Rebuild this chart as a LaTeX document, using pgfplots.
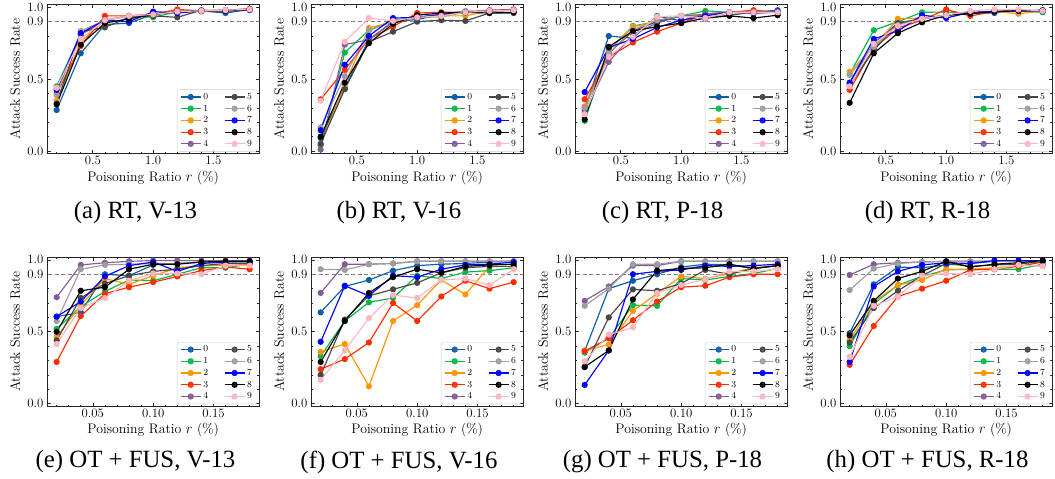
\documentclass[border=0pt]{standalone}
\usepackage{fontspec}
\usepackage{pgfplots}
\usepackage{pgfplotstable}
\pgfplotsset{compat=1.18}
\newfontfamily\capfont{Liberation Serif}
\newcommand\tf{\fontsize{12.8}{14}\selectfont}
\newcommand\lbf{\fontsize{13.8}{15}\selectfont}
\newcommand\lgf{\fontsize{9.3}{10}\selectfont}

\definecolor{c0}{HTML}{0C5DA5}
\definecolor{c1}{HTML}{00B945}
\definecolor{c2}{HTML}{FF9500}
\definecolor{c3}{HTML}{FF2C00}
\definecolor{c4}{HTML}{845B97}
\definecolor{c5}{HTML}{474747}
\definecolor{c6}{HTML}{9E9E9E}
\definecolor{c7}{HTML}{0000FF}
\definecolor{c8}{HTML}{000000}
\definecolor{c9}{HTML}{FFB6C1}

% RT, V-13
\pgfplotstableread{
x   s0    s1    s2    s3    s4    s5    s6    s7    s8    s9
0.2 0.285 0.45  0.35  0.40  0.43  0.33  0.39  0.425 0.325 0.44
0.4 0.68  0.81  0.76  0.73  0.81  0.83  0.835 0.82  0.74  0.78
0.6 0.88  0.91  0.91  0.94  0.91  0.86  0.91  0.91  0.89  0.91
0.8 0.89  0.94  0.94  0.94  0.94  0.93  0.94  0.90  0.92  0.94
1.0 0.95  0.93  0.95  0.95  0.95  0.94  0.95  0.97  0.95  0.95
1.2 0.97  0.97  0.97  0.985 0.97  0.93  0.97  0.96  0.97  0.97
1.4 0.975 0.975 0.97  0.975 0.975 0.98  0.975 0.975 0.975 0.975
1.6 0.96  0.98  0.98  0.98  0.98  0.975 0.98  0.975 0.975 0.98
1.8 0.985 0.985 0.985 0.99  0.985 0.985 0.985 0.98  0.985 0.985
}\tabA
% RT, V-16
\pgfplotstableread{
x   s0    s1    s2    s3    s4    s5    s6    s7    s8    s9
0.2 0.09  0.04  0.05  0.36  0.01  0.05  0.165 0.145 0.10  0.35
0.4 0.44  0.685 0.46  0.565 0.74  0.43  0.52  0.60  0.475 0.76
0.6 0.775 0.84  0.855 0.78  0.775 0.76  0.84  0.80  0.75  0.925
0.8 0.90  0.91  0.90  0.865 0.90  0.83  0.90  0.925 0.885 0.905
1.0 0.915 0.93  0.93  0.96  0.93  0.90  0.93  0.93  0.945 0.93
1.2 0.95  0.935 0.94  0.965 0.95  0.91  0.95  0.95  0.96  0.94
1.4 0.965 0.965 0.94  0.965 0.965 0.905 0.975 0.965 0.965 0.965
1.6 0.975 0.975 0.975 0.98  0.975 0.96  0.975 0.975 0.96  0.975
1.8 0.98  0.98  0.98  0.985 0.98  0.96  0.98  0.98  0.965 0.98
}\tabB
% RT, P-18
\pgfplotstableread{
x   s0    s1    s2    s3    s4    s5    s6    s7    s8    s9
0.2 0.285 0.21  0.31  0.36  0.27  0.30  0.30  0.41  0.22  0.255
0.4 0.80  0.70  0.70  0.655 0.62  0.68  0.68  0.72  0.725 0.655
0.6 0.785 0.87  0.865 0.755 0.81  0.835 0.845 0.78  0.835 0.795
0.8 0.94  0.90  0.90  0.83  0.89  0.90  0.91  0.86  0.865 0.935
1.0 0.905 0.94  0.94  0.89  0.94  0.94  0.94  0.91  0.89  0.94
1.2 0.955 0.975 0.95  0.95  0.95  0.925 0.92  0.94  0.925 0.925
1.4 0.965 0.965 0.965 0.965 0.965 0.945 0.965 0.965 0.94  0.965
1.6 0.965 0.965 0.965 0.98  0.965 0.965 0.955 0.96  0.925 0.965
1.8 0.98  0.965 0.965 0.965 0.965 0.965 0.965 0.97  0.945 0.965
}\tabC
% RT, R-18
\pgfplotstableread{
x   s0    s1    s2    s3    s4    s5    s6    s7    s8    s9
0.2 0.475 0.535 0.55  0.425 0.45  0.46  0.53  0.475 0.335 0.45
0.4 0.75  0.84  0.725 0.715 0.71  0.70  0.725 0.78  0.68  0.745
0.6 0.89  0.90  0.92  0.855 0.88  0.89  0.875 0.835 0.82  0.87
0.8 0.92  0.965 0.925 0.91  0.92  0.92  0.92  0.945 0.895 0.92
1.0 0.945 0.967 0.945 0.985 0.945 0.945 0.945 0.925 0.945 0.945
1.2 0.96  0.96  0.96  0.94  0.96  0.96  0.96  0.965 0.955 0.975
1.4 0.96  0.97  0.97  0.97  0.97  0.97  0.97  0.97  0.97  0.985
1.6 0.975 0.975 0.955 0.975 0.975 0.975 0.975 0.975 0.975 0.985
1.8 0.975 0.965 0.975 0.975 0.975 0.975 0.975 0.975 0.98  0.975
}\tabD
% OT + FUS, V-13
\pgfplotstableread{
x    s0    s1    s2    s3    s4    s5    s6    s7    s8    s9
0.02 0.605 0.52  0.465 0.29  0.74  0.44  0.575 0.605 0.50  0.415
0.04 0.635 0.675 0.685 0.61  0.965 0.735 0.935 0.71  0.785 0.665
0.06 0.90  0.78  0.87  0.765 0.98  0.835 0.965 0.885 0.81  0.735
0.08 0.89  0.86  0.83  0.81  0.99  0.89  0.97  0.96  0.935 0.855
0.10 0.965 0.855 0.89  0.845 0.995 0.92  0.975 0.985 0.97  0.905
0.12 0.975 0.90  0.945 0.885 0.995 0.935 0.975 0.92  0.97  0.905
0.14 0.985 0.945 0.96  0.925 0.995 0.96  0.985 0.975 0.985 0.90
0.16 0.99  0.945 0.96  0.95  0.995 0.975 0.985 0.985 0.99  0.96
0.18 0.985 0.97  0.97  0.935 0.995 0.975 0.99  0.99  0.99  0.96
}\tabE
% OT + FUS, V-16
\pgfplotstableread{
x    s0    s1    s2    s3    s4    s5    s6    s7    s8    s9
0.02 0.635 0.33  0.36  0.24  0.77  0.20  0.935 0.43  0.29  0.165
0.04 0.815 0.575 0.415 0.31  0.97  0.585 0.93  0.82  0.575 0.37
0.06 0.86  0.705 0.12  0.425 0.97  0.75  0.97  0.75  0.77  0.595
0.08 0.925 0.735 0.575 0.70  0.975 0.795 0.975 0.89  0.88  0.755
0.10 0.96  0.89  0.685 0.575 0.99  0.84  0.99  0.88  0.935 0.735
0.12 0.97  0.87  0.86  0.745 0.99  0.91  0.99  0.935 0.91  0.86
0.14 0.975 0.915 0.76  0.855 0.99  0.945 0.99  0.965 0.955 0.87
0.16 0.985 0.925 0.955 0.80  0.99  0.955 0.99  0.97  0.965 0.825
0.18 0.99  0.945 0.955 0.845 0.99  0.955 0.99  0.985 0.97  0.935
}\tabF
% OT + FUS, P-18
\pgfplotstableread{
x    s0    s1    s2    s3    s4    s5    s6    s7    s8    s9
0.02 0.365 0.355 0.37  0.365 0.715 0.255 0.68  0.13  0.255 0.295
0.04 0.80  0.455 0.41  0.455 0.815 0.60  0.80  0.37  0.37  0.48
0.06 0.855 0.685 0.645 0.58  0.96  0.795 0.97  0.90  0.725 0.53
0.08 0.90  0.68  0.765 0.71  0.96  0.785 0.97  0.92  0.925 0.77
0.10 0.95  0.87  0.885 0.81  0.99  0.835 0.99  0.93  0.94  0.825
0.12 0.97  0.86  0.87  0.82  0.99  0.93  0.99  0.96  0.945 0.865
0.14 0.965 0.885 0.905 0.88  0.99  0.90  0.99  0.955 0.97  0.92
0.16 0.94  0.905 0.945 0.90  0.99  0.94  0.99  0.96  0.94  0.92
0.18 0.96  0.94  0.96  0.90  0.99  0.96  0.99  0.97  0.96  0.935
}\tabG
% OT + FUS, R-18
\pgfplotstableread{
x    s0    s1    s2    s3    s4    s5    s6    s7    s8    s9
0.02 0.49  0.40  0.44  0.27  0.895 0.425 0.79  0.29  0.475 0.325
0.04 0.83  0.695 0.71  0.54  0.97  0.665 0.94  0.815 0.715 0.68
0.06 0.95  0.825 0.825 0.745 0.98  0.785 0.975 0.92  0.87  0.745
0.08 0.945 0.885 0.86  0.80  0.985 0.89  0.985 0.965 0.92  0.89
0.10 0.965 0.93  0.935 0.855 0.99  0.975 0.99  0.98  0.99  0.905
0.12 0.975 0.935 0.935 0.93  0.99  0.955 0.99  0.975 0.95  0.90
0.14 0.99  0.935 0.945 0.935 0.99  0.965 0.99  0.995 0.97  0.935
0.16 0.995 0.935 0.96  0.955 0.99  0.97  0.99  0.995 0.98  0.965
0.18 0.995 0.97  0.96  0.985 0.99  0.99  0.99  0.995 0.995 0.955
}\tabH

\pgfplotsset{
  asr/.style={
    scale only axis, width=212.3pt, height=149.5pt, anchor=north west,
    ymin=-0.02, ymax=1.02,
    ytick={0,0.5,0.9,1.0}, yticklabels={\tf 0.0,\tf 0.5,\tf 0.9,\tf 1.0},
    minor ytick={0.1,0.2,0.3,0.4,0.6,0.7,0.8},
    tick align=inside,
    major tick length=3.5pt, minor tick length=2pt,
    axis line style={black!85, line width=1pt},
    every tick/.style={black!85, line width=0.7pt},
    tick label style={font=\tf},
    xticklabel style={yshift=1pt},
    xlabel={\lbf Poisoning Ratio $r$ (\%)},
    ylabel={\lbf Attack Success Rate},
    every axis y label/.style={at={([xshift=-32pt]axis description cs:0,0.5)},rotate=90,anchor=center},
    every axis x label/.style={at={([yshift=-24pt]axis description cs:0.5,0)},anchor=center},
    legend columns=5, legend transposed=true,
    legend cell align=left,
    legend style={at={(0.99,0.016)}, anchor=south east,
      font=\lgf, draw=black!20, fill=white, fill opacity=0.85, text opacity=1,
      rounded corners=2pt, inner xsep=3pt, inner ysep=1.5pt,
      /tikz/every even column/.append style={column sep=14pt}},
    legend image code/.code={\draw[mark repeat=2,mark phase=2,##1] plot coordinates {(0pt,0pt) (10pt,0pt) (20pt,0pt)};},
  },
  rowA/.style={xmin=0.12, xmax=1.88, xtick={0.5,1.0,1.5}, xticklabels={\tf 0.5,\tf 1.0,\tf 1.5},
    minor xtick={0.2,0.3,0.4,0.6,0.7,0.8,0.9,1.1,1.2,1.3,1.4,1.6,1.7,1.8}},
  rowB/.style={xmin=0.012, xmax=0.188, xtick={0.05,0.10,0.15}, xticklabels={\tf 0.05,\tf 0.10,\tf 0.15},
    minor xtick={0.02,0.03,0.04,0.06,0.07,0.08,0.09,0.11,0.12,0.13,0.14,0.16,0.17,0.18}},
}

\newcommand\plotall[1]{%
  \addplot[forget plot, gray, dash pattern=on 4pt off 2.5pt, line width=1pt] coordinates {(-1,0.9) (3,0.9)};
  \pgfplotsinvokeforeach{0,...,9}{%
    \addplot[color=c##1, line width=1.15pt, mark=*, mark size=2.5pt, mark options={solid, fill=c##1}]
      table[x=x, y=s##1] {#1};
    \addlegendentry{\lgf ##1}
  }%
}

\begin{document}
\begin{tikzpicture}
\useasboundingbox (0,0) rectangle (1055pt,-479pt);

\begin{axis}[asr, rowA, at={(47pt,-4.4pt)}]
\plotall{\tabA}
\end{axis}
\begin{axis}[asr, rowA, at={(311pt,-4.4pt)}]
\plotall{\tabB}
\end{axis}
\begin{axis}[asr, rowA, at={(575pt,-4.4pt)}]
\plotall{\tabC}
\end{axis}
\begin{axis}[asr, rowA, at={(840pt,-4.4pt)}]
\plotall{\tabD}
\end{axis}

\begin{axis}[asr, rowB, at={(47pt,-257pt)}]
\plotall{\tabE}
\end{axis}
\begin{axis}[asr, rowB, at={(311pt,-257pt)}]
\plotall{\tabF}
\end{axis}
\begin{axis}[asr, rowB, at={(575pt,-257pt)}]
\plotall{\tabG}
\end{axis}
\begin{axis}[asr, rowB, at={(840pt,-257pt)}]
\plotall{\tabH}
\end{axis}

\begin{scope}[every node/.style={font=\capfont\fontsize{24.8}{27}\selectfont, anchor=center}]
\node at (135.5pt,-213pt) {(a) RT, V-13};
\node at (399pt,-213pt) {(b) RT, V-16};
\node at (662.5pt,-213pt) {(c) RT, P-18};
\node at (927.5pt,-213pt) {(d) RT, R-18};
\node at (135.5pt,-462pt) {(e) OT + FUS, V-13};
\node at (399pt,-462pt) {(f) OT + FUS, V-16};
\node at (662.5pt,-462pt) {(g) OT + FUS, P-18};
\node at (927.5pt,-462pt) {(h) OT + FUS, R-18};
\end{scope}
\end{tikzpicture}
\end{document}
